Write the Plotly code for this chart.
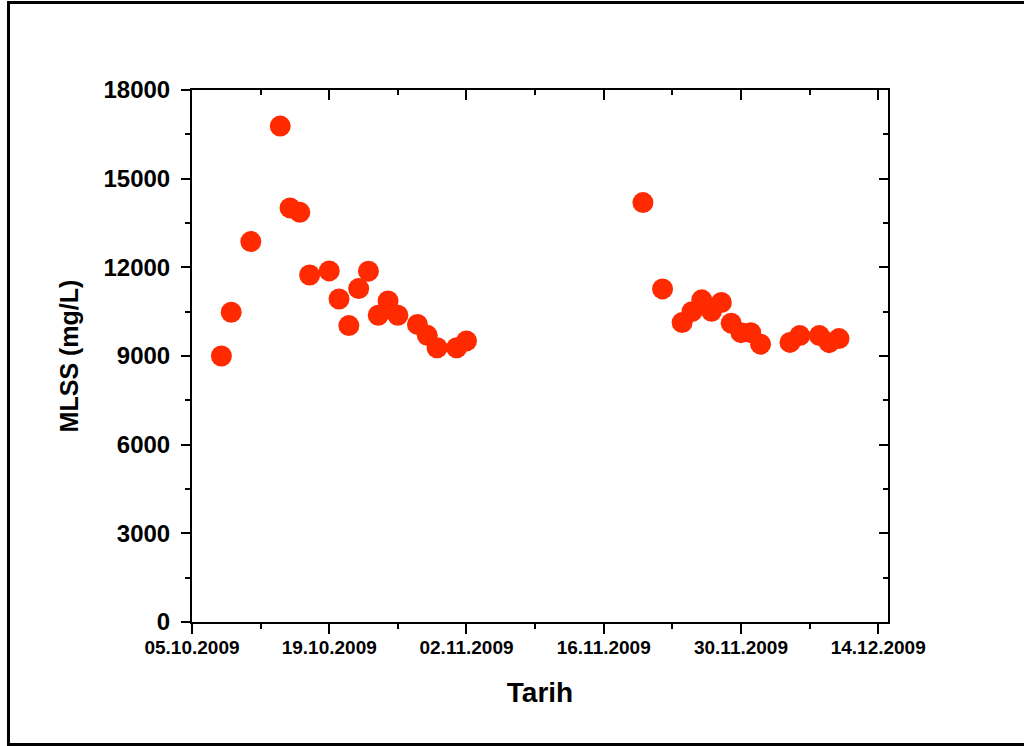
import plotly.graph_objects as go

dates = [
    "2009-10-08", "2009-10-09", "2009-10-11", "2009-10-14", "2009-10-15",
    "2009-10-16", "2009-10-17", "2009-10-19", "2009-10-20", "2009-10-21",
    "2009-10-22", "2009-10-23", "2009-10-24", "2009-10-25", "2009-10-26",
    "2009-10-28", "2009-10-29", "2009-10-30", "2009-11-01", "2009-11-02",
    "2009-11-20", "2009-11-22", "2009-11-24", "2009-11-25", "2009-11-26",
    "2009-11-27", "2009-11-28", "2009-11-29", "2009-11-30", "2009-12-01",
    "2009-12-02", "2009-12-05", "2009-12-06", "2009-12-08", "2009-12-09",
    "2009-12-10",
]
mlss = [
    9000, 10480, 12870, 16780, 14010,
    13860, 11740, 11880, 10930, 10030,
    11280, 11870, 10380, 10860, 10380,
    10070, 9700, 9280, 9280, 9510,
    14190, 11270, 10130, 10500, 10900,
    10510, 10810, 10110, 9790, 9790,
    9400, 9460, 9690, 9690, 9450,
    9590,
]

x_range = ["2009-10-05", "2009-12-15"]
y_range = [0, 18000]
x_title = "Tarih"
y_title = "MLSS (mg/L)"

FONT = "Liberation Sans, Arial, Helvetica, sans-serif"
DAY = 86400000

fig = go.Figure()
fig.add_trace(go.Scatter(
    x=dates, y=mlss, mode="markers",
    marker=dict(size=21, color="#ff2a00", line=dict(width=0)),
    showlegend=False, hoverinfo="x+y",
))
# invisible copy for mirrored inner-tick axes
fig.add_trace(go.Scatter(
    x=dates, y=mlss, mode="markers", xaxis="x2", yaxis="y2",
    marker=dict(size=1, opacity=0), showlegend=False, hoverinfo="skip",
))

common_line = dict(showline=True, linecolor="black", linewidth=2,
                   showgrid=False, zeroline=False)

fig.update_layout(
    width=1024, height=746,
    margin=dict(l=192, r=136, t=90, b=124),
    paper_bgcolor="white", plot_bgcolor="white",
    font=dict(family=FONT, color="black"),
    xaxis=dict(
        type="date", range=x_range, tick0="2009-10-05", dtick=14 * DAY,
        tickformat="%d.%m.%Y", ticks="outside", ticklen=10, tickwidth=2,
        tickcolor="black",
        tickfont=dict(family=FONT, size=19, color="black", weight="bold"),
        minor=dict(ticks="outside", ticklen=5, tickwidth=2, tickcolor="black",
                   dtick=7 * DAY, tick0="2009-10-05", showgrid=False),
        title=dict(text="<b>" + x_title + "</b>",
                   font=dict(family=FONT, size=28, color="black"), standoff=26),
        ticklabelstandoff=-3,
        **common_line,
    ),
    yaxis=dict(
        range=y_range, tick0=0, dtick=3000, tickformat="d",
        ticks="outside", ticklen=9, tickwidth=2, tickcolor="black",
        tickfont=dict(family=FONT, size=24, color="black", weight="bold"),
        minor=dict(ticks="outside", ticklen=5, tickwidth=2, tickcolor="black",
                   dtick=1500, tick0=0, showgrid=False),
        title=dict(text="<b>" + y_title + "</b>",
                   font=dict(family=FONT, size=25, color="black"), standoff=18),
        ticklabelstandoff=6,
        **common_line,
    ),
    xaxis2=dict(
        type="date", range=x_range, overlaying="x", side="top", anchor="y2",
        tick0="2009-10-05", dtick=14 * DAY, ticks="inside", ticklen=10,
        tickwidth=2, tickcolor="black", showticklabels=False,
        minor=dict(ticks="inside", ticklen=5, tickwidth=2, tickcolor="black",
                   dtick=7 * DAY, tick0="2009-10-05", showgrid=False),
        **common_line,
    ),
    yaxis2=dict(
        range=y_range, overlaying="y", side="right", anchor="x2",
        tick0=0, dtick=3000, ticks="inside", ticklen=9, tickwidth=2,
        tickcolor="black", showticklabels=False,
        minor=dict(ticks="inside", ticklen=5, tickwidth=2, tickcolor="black",
                   dtick=1500, tick0=0, showgrid=False),
        **common_line,
    ),
    shapes=[dict(
        type="rect", xref="paper", yref="paper",
        x0=(8.5 - 192) / 696, x1=(1030 - 192) / 696,
        y0=(622 - 744.5) / 532, y1=(622 - 2.5) / 532,
        line=dict(color="black", width=3), fillcolor="rgba(0,0,0,0)",
        layer="below",
    )],
)

fig.write_html("out.html")
